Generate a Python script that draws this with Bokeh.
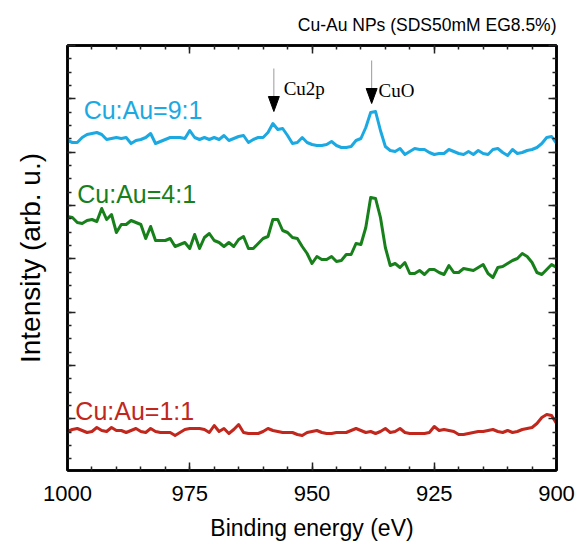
import math
from bokeh.plotting import figure
from bokeh.models import Range1d, FixedTicker, LinearAxis, Label, ColumnDataSource, Title
from bokeh.embed import file_html
from bokeh.resources import INLINE

# ---------------- data ----------------
energy = list(range(1000, 899, -1))  # binding energy (eV), 1 eV step

int_9to1 = [327, 325, 325, 330, 333, 334, 335, 333, 328, 329,
            330, 329, 330, 324, 327, 328, 330, 334, 324, 326,
            328, 330, 330, 330, 329, 337, 330, 328, 330, 328,
            330, 328, 332, 327, 329, 331, 332, 325, 328, 330,
            330, 335, 344, 338, 339, 332, 324, 325, 330, 325,
            323, 322, 322, 323, 326, 322, 320, 320, 321, 327,
            329, 340, 355, 356, 337, 321, 317, 316, 319, 313,
            316, 319, 318, 318, 315, 313, 314, 314, 318, 316,
            314, 313, 316, 313, 317, 314, 313, 318, 319, 315,
            312, 318, 314, 315, 317, 318, 320, 324, 330, 331,
            324]

int_4to1 = [251, 250, 245, 244, 247, 248, 246, 259, 248, 253,
            235, 243, 243, 247, 245, 243, 229, 241, 227, 227,
            227, 229, 221, 223, 225, 219, 233, 219, 230, 234,
            227, 225, 221, 225, 221, 228, 231, 219, 219, 224,
            229, 231, 248, 248, 237, 235, 230, 229, 221, 214,
            204, 211, 208, 208, 211, 206, 207, 213, 213, 224,
            223, 240, 270, 269, 250, 220, 202, 204, 200, 205,
            194, 194, 197, 193, 198, 198, 195, 193, 202, 195,
            195, 199, 198, 197, 200, 203, 194, 190, 200, 201,
            204, 207, 209, 214, 211, 205, 195, 193, 198, 203,
            200]

int_1to1 = [36, 38, 39, 37, 35, 36, 40, 37, 36, 40,
            37, 37, 35, 37, 39, 36, 35, 39, 36, 35,
            35, 35, 32, 35, 38, 39, 39, 39, 38, 35,
            42, 36, 39, 34, 38, 43, 35, 34, 34, 34,
            36, 39, 37, 36, 35, 35, 35, 33, 32, 35,
            36, 37, 35, 34, 34, 35, 35, 35, 37, 39,
            37, 35, 36, 34, 36, 39, 35, 36, 39, 35,
            34, 34, 34, 34, 35, 41, 37, 38, 37, 36,
            33, 33, 34, 35, 36, 36, 37, 38, 36, 35,
            37, 35, 36, 38, 39, 40, 44, 50, 53, 52,
            44]

series_names = ["Cu:Au=9:1", "Cu:Au=4:1", "Cu:Au=1:1"]
series_colors = ["#1CA9E2", "#17801B", "#C1271C"]
series_values = [int_9to1, int_4to1, int_1to1]
# label anchor (energy, intensity)
label_pos = [(996.7, 357.5), (998.0, 273.5), (998.4, 57.0)]

x_ticks = [1000, 975, 950, 925, 900]
x_minor = list(range(900, 1001, 5))

peak_names = ["Cu2p", "CuO"]
peak_energy = [957.8, 937.8]
peak_tip = [356.0, 364.0]
peak_stem_top = [399.0, 407.0]
peak_text_pos = [(955.8, 379.5), (936.4, 377.0)]

title_text = "Cu-Au NPs (SDS50mM EG8.5%)"
xlabel_text = "Binding energy (eV)"
ylabel_text = "Intensity (arb. u.)"

# ---------------- figure ----------------
Y_TOP, Y_BOT = 422.0, -3.0
p = figure(width=577, height=544, output_backend="svg", toolbar_location=None,
           x_range=Range1d(1000, 900), y_range=Range1d(Y_BOT, Y_TOP),
           min_border_left=67, min_border_right=21, min_border_top=45,
           min_border_bottom=74, x_axis_type=None, y_axis_type=None)
p.grid.visible = False
p.outline_line_color = "black"
p.outline_line_width = 2.5
p.background_fill_color = "white"
p.border_fill_color = "white"

y_major = [Y_TOP - 53.333 * j for j in range(8)]
y_minor = [Y_TOP - 13.333 * i for i in range(32)]

def style_axis(ax, show_labels=False):
    ax.axis_line_color = "black"
    ax.axis_line_width = 2.5
    ax.major_tick_in = 8
    ax.major_tick_out = 0
    ax.minor_tick_in = 4
    ax.minor_tick_out = 0
    ax.major_tick_line_color = "#222222"
    ax.minor_tick_line_color = "#222222"
    ax.major_tick_line_width = 1.5
    ax.minor_tick_line_width = 1.5
    if not show_labels:
        ax.major_label_text_font_size = "1px"
        ax.major_label_text_color = None
        ax.major_label_standoff = 0

xb = LinearAxis(ticker=FixedTicker(ticks=x_ticks, minor_ticks=x_minor))
style_axis(xb, show_labels=True)
xb.major_label_text_font = "Liberation Sans"
xb.major_label_text_font_size = "22px"
xb.major_label_text_color = "black"
xb.major_label_standoff = 15
xb.axis_label = xlabel_text
xb.axis_label_text_font = "Liberation Sans"
xb.axis_label_text_font_size = "23px"
xb.axis_label_text_font_style = "normal"
xb.axis_label_text_color = "black"
xb.axis_label_standoff = 11
p.add_layout(xb, "below")

xt = LinearAxis(ticker=FixedTicker(ticks=x_ticks, minor_ticks=x_minor))
style_axis(xt)
p.add_layout(xt, "above")

yl = LinearAxis(ticker=FixedTicker(ticks=y_major, minor_ticks=y_minor))
style_axis(yl)
yl.axis_label = ylabel_text
yl.axis_label_text_font = "Liberation Sans"
yl.axis_label_text_font_size = "28px"
yl.axis_label_text_font_style = "normal"
yl.axis_label_text_color = "black"
yl.axis_label_standoff = 22
p.add_layout(yl, "left")

yr = LinearAxis(ticker=FixedTicker(ticks=y_major, minor_ticks=y_minor))
style_axis(yr)
p.add_layout(yr, "right")

# spectra
for name, col, vals, (lx, ly) in zip(series_names, series_colors, series_values, label_pos):
    src = ColumnDataSource(dict(x=energy, y=vals))
    p.line("x", "y", source=src, line_color=col, line_width=3, line_join="round")
    p.add_layout(Label(x=lx, y=ly, text=name, text_color=col,
                       text_font="Liberation Sans", text_font_size="25px",
                       text_baseline="alphabetic", text_align="left"))

# peak markers
HEAD_H = 15.0
HEAD_HW = 1.12
stem_src = ColumnDataSource(dict(x0=peak_energy, y0=peak_stem_top,
                                 x1=peak_energy, y1=[t + HEAD_H for t in peak_tip]))
p.segment("x0", "y0", "x1", "y1", source=stem_src, line_color="#9a9a9a", line_width=1)
head_src = ColumnDataSource(dict(
    xs=[[e - HEAD_HW, e + HEAD_HW, e] for e in peak_energy],
    ys=[[t + HEAD_H, t + HEAD_H, t] for t in peak_tip]))
p.patches("xs", "ys", source=head_src, fill_color="black", line_color="black", line_width=1)
for nm, (tx, ty) in zip(peak_names, peak_text_pos):
    p.add_layout(Label(x=tx, y=ty, text=nm, text_color="black",
                       text_font="Liberation Serif", text_font_size="19px",
                       text_baseline="alphabetic", text_align="left"))

# title
p.add_layout(Title(text=title_text, align="right", text_font="Liberation Sans",
                   text_font_size="17.5px", text_font_style="normal",
                   text_color="black", standoff=22), "above")

open("out.html", "w").write(file_html(p, INLINE))
